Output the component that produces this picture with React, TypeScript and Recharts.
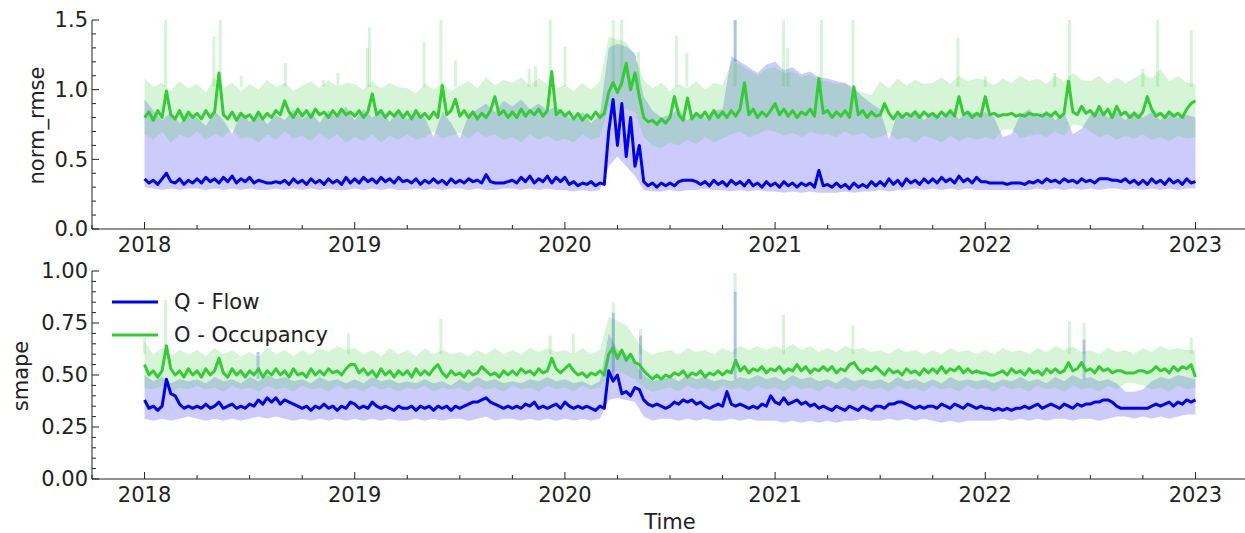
import React from 'react'
import { ComposedChart, Line, Area, Scatter, ErrorBar, XAxis, YAxis, Legend } from 'recharts'

const FONT = '"DejaVu Sans", Verdana, sans-serif'
const INK = '#222222'
const FLOW = '#0000f0'
const OCC = '#32cd32'

const START_YEAR = 2018
const LINE_STEPS = 48 // mean curves: samples per year
const BAND_STEPS = 24 // min/max envelopes: samples per year

const yearTicks = [2018, 2019, 2020, 2021, 2022, 2023]
const timeTicks = [
  2017.75, 2018, 2018.25, 2018.5, 2018.75, 2019, 2019.25, 2019.5, 2019.75, 2020, 2020.25, 2020.5,
  2020.75, 2021, 2021.25, 2021.5, 2021.75, 2022, 2022.25, 2022.5, 2022.75, 2023, 2023.25,
]
const rmseTicks = [0, 0.1, 0.2, 0.3, 0.4, 0.5, 0.6, 0.7, 0.8, 0.9, 1.0, 1.1, 1.2, 1.3, 1.4, 1.5]
const rmseMajor = [0, 0.5, 1.0, 1.5]
const smapeTicks = [
  0, 0.05, 0.1, 0.15, 0.2, 0.25, 0.3, 0.35, 0.4, 0.45, 0.5, 0.55, 0.6, 0.65, 0.7, 0.75, 0.8, 0.85,
  0.9, 0.95, 1.0,
]
const smapeMajor = [0, 0.25, 0.5, 0.75, 1.0]
const legendOrder = ['flow', 'occ']

// ---- norm_rmse, mean over detectors (x100), one row per quarter ----
const rmseFlow = [
  36, 33, 35, 32, 36, 40, 34, 33, 36, 32, 35, 33,
  36, 33, 37, 34, 36, 33, 37, 34, 38, 33, 36, 34,
  37, 33, 35, 34, 33, 33, 34, 33, 35, 32, 36, 33,
  35, 32, 36, 33, 35, 32, 36, 33, 35, 32, 37, 33,
  36, 33, 37, 34, 36, 33, 37, 34, 36, 33, 37, 34,
  35, 33, 36, 32, 35, 33, 36, 33, 35, 32, 36, 33,
  35, 33, 36, 34, 35, 33, 39, 34, 33, 33, 33, 34,
  35, 33, 37, 34, 38, 33, 36, 34, 38, 33, 37, 34,
  37, 32, 34, 31, 33, 32, 34, 31, 33, 32, 70, 93,
  60, 90, 52, 80, 45, 60, 34, 31, 33, 30, 33, 31,
  33, 31, 34, 35, 35, 35, 34, 32, 34, 31, 35, 32,
  34, 31, 35, 32, 34, 31, 35, 31, 33, 30, 34, 31,
  33, 30, 34, 31, 33, 30, 33, 31, 33, 30, 42, 31,
  32, 30, 33, 30, 32, 29, 33, 30, 32, 30, 34, 31,
  34, 31, 36, 32, 35, 31, 36, 33, 35, 32, 36, 33,
  36, 33, 37, 34, 36, 33, 38, 34, 36, 33, 37, 34,
  34, 33, 33, 33, 33, 32, 33, 33, 33, 32, 34, 33,
  35, 33, 36, 34, 35, 33, 36, 34, 35, 33, 36, 34,
  35, 33, 36, 36, 36, 35, 35, 34, 36, 33, 35, 32,
  35, 32, 36, 33, 35, 32, 36, 33, 35, 32, 36, 33,
  34,
]
const rmseOcc = [
  80, 84, 78, 85, 80, 99, 82, 79, 85, 78, 84, 80,
  83, 79, 85, 80, 84, 112, 82, 79, 84, 78, 83, 80,
  82, 78, 84, 79, 83, 80, 85, 82, 92, 84, 80, 86,
  81, 85, 80, 86, 82, 84, 80, 85, 81, 86, 82, 84,
  81, 85, 80, 84, 97, 82, 85, 80, 84, 81, 85, 80,
  84, 79, 85, 80, 83, 79, 84, 80, 103, 82, 85, 93,
  81, 85, 80, 84, 79, 83, 80, 85, 95, 82, 85, 80,
  84, 80, 86, 81, 85, 82, 86, 81, 85, 113, 82, 85,
  81, 84, 79, 83, 78, 82, 79, 84, 80, 83, 98, 105,
  98, 105, 119, 100, 112, 95, 80, 77, 78, 75, 79, 76,
  80, 95, 82, 78, 94, 79, 83, 80, 84, 79, 85, 80,
  84, 80, 85, 81, 86, 105, 82, 86, 80, 84, 81, 85,
  90, 82, 86, 81, 85, 80, 84, 82, 86, 81, 108, 83,
  85, 80, 84, 81, 85, 80, 102, 82, 85, 80, 84, 81,
  82, 90, 83, 79, 84, 80, 83, 81, 84, 80, 84, 81,
  83, 80, 84, 81, 85, 81, 95, 82, 84, 80, 83, 81,
  95, 82, 83, 81, 82, 82, 83, 81, 82, 81, 83, 82,
  82, 81, 83, 81, 84, 80, 83, 106, 84, 82, 88, 83,
  85, 81, 88, 82, 86, 80, 88, 82, 84, 80, 83, 80,
  84, 95, 86, 81, 83, 80, 84, 81, 83, 80, 86, 90,
  92,
]

// ---- norm_rmse, daily spread (x100), one row per year ----
const rmseFlowLow = [
  30, 29, 28, 29, 28, 29, 29, 28, 29, 28, 29, 28, 29, 28, 28, 29, 28, 29, 28, 29, 28, 29, 28, 28,
  29, 28, 29, 28, 29, 28, 28, 29, 28, 29, 28, 29, 29, 28, 29, 28, 28, 29, 29, 28, 29, 28, 29, 28,
  28, 27, 28, 27, 28, 45, 52, 45, 38, 28, 27, 27, 28, 27, 28, 28, 29, 28, 28, 27, 28, 27, 28, 27,
  27, 26, 27, 26, 27, 26, 26, 26, 27, 26, 27, 27, 28, 27, 28, 28, 29, 28, 29, 28, 29, 28, 29, 28,
  28, 28, 28, 28, 28, 28, 29, 28, 29, 28, 29, 28, 29, 28, 29, 29, 28, 29, 28, 29, 28, 29, 28, 29,
  29,
]
const rmseFlowHigh = [
  93, 85, 78, 84, 76, 82, 80, 74, 85, 78, 68, 83, 77, 84, 75, 82, 78, 86, 79, 84, 76, 85, 80, 88,
  78, 86, 80, 84, 77, 85, 79, 83, 80, 66, 84, 76, 65, 82, 86, 90, 84, 92, 88, 93, 86, 90, 85, 88,
  82, 78, 84, 76, 82, 130, 133, 131, 126, 95, 85, 80, 82, 86, 78, 84, 80, 85, 86, 124, 120, 116, 112, 118,
  120, 114, 116, 111, 113, 109, 108, 106, 105, 101, 95, 90, 86, 64, 84, 80, 86, 78, 84, 80, 86, 79, 85, 82,
  84, 80, 66, 68, 82, 86, 80, 85, 78, 84, 68, 72, 82, 86, 80, 84, 78, 85, 80, 84, 78, 85, 80, 82,
  80,
]
const rmseOccLow = [
  68, 64, 70, 62, 68, 65, 70, 64, 68, 66, 72, 65, 66, 62, 68, 64, 70, 65, 67, 63, 69, 64, 68, 62,
  66, 63, 68, 62, 67, 64, 68, 64, 66, 70, 65, 67, 69, 65, 70, 66, 68, 64, 66, 62, 68, 64, 67, 63,
  65, 62, 68, 64, 66, 88, 85, 86, 84, 66, 60, 58, 62, 60, 64, 61, 66, 62, 65, 68, 70, 66, 68, 71,
  70, 67, 69, 66, 70, 68, 68, 66, 70, 67, 69, 65, 66, 69, 64, 66, 62, 67, 65, 62, 67, 63, 66, 64,
  66, 64, 71, 72, 65, 67, 68, 66, 70, 67, 75, 74, 70, 66, 68, 64, 67, 65, 68, 64, 66, 63, 67, 65,
  66,
]
const rmseOccHigh = [
  108, 102, 105, 99, 106, 101, 104, 98, 109, 101, 105, 99, 104, 100, 107, 102, 105, 99, 103, 106, 101, 107, 102, 105,
  104, 100, 106, 101, 105, 102, 101, 97, 104, 100, 105, 99, 103, 106, 101, 109, 103, 107, 105, 109, 103, 108, 104, 101,
  103, 99, 105, 100, 106, 138, 136, 134, 125, 107, 101, 105, 99, 104, 101, 106, 100, 105, 103, 120, 118, 114, 110, 115,
  116, 112, 113, 109, 111, 107, 106, 104, 104, 100, 98, 96, 106, 101, 108, 103, 107, 104, 105, 109, 104, 110, 106, 108,
  107, 103, 108, 105, 110, 106, 108, 104, 110, 106, 112, 107, 106, 110, 104, 109, 105, 108, 112, 108, 115, 106, 110, 105,
  104,
]
// single-day outliers of the spread: [year, top x100]
const rmseOccSpikes = [
  [2018.1, 150], [2018.33, 138], [2018.36, 150], [2018.46, 110], [2018.67, 119], [2018.85, 107],
  [2018.92, 112], [2019.06, 130], [2019.07, 145], [2019.33, 134], [2019.41, 150], [2019.48, 121],
  [2019.83, 115], [2019.86, 117], [2019.93, 150], [2020.0, 131], [2020.23, 150], [2020.27, 150],
  [2020.35, 127], [2020.53, 139], [2020.58, 126], [2020.81, 150], [2021.04, 150], [2021.06, 130],
  [2021.22, 150], [2021.37, 150], [2021.87, 137], [2022.0, 110], [2022.33, 112], [2022.4, 150],
  [2022.75, 115], [2022.82, 150], [2022.98, 143],
]
const rmseFlowSpikes = [[2020.81, 150]]

// ---- smape, mean over detectors (x100) ----
const smapeFlow = [
  38, 34, 35, 33, 35, 48, 41, 40, 36, 34, 35, 34,
  35, 34, 36, 34, 35, 37, 34, 35, 36, 34, 35, 34,
  36, 35, 38, 36, 39, 37, 39, 36, 38, 37, 36, 35,
  34, 35, 33, 35, 34, 36, 34, 35, 33, 35, 34, 37,
  36, 34, 35, 34, 37, 35, 34, 35, 34, 33, 35, 34,
  34, 35, 33, 35, 34, 35, 33, 35, 34, 35, 33, 35,
  34, 35, 36, 37, 37, 38, 39, 37, 36, 35, 34, 35,
  34, 35, 34, 36, 35, 37, 34, 35, 34, 35, 36, 34,
  37, 35, 34, 35, 34, 35, 34, 33, 35, 34, 52, 47,
  50, 41, 42, 40, 44, 43, 38, 36, 35, 36, 35, 34,
  35, 37, 36, 38, 37, 38, 36, 37, 35, 34, 35, 36,
  35, 42, 36, 35, 36, 35, 34, 35, 34, 36, 35, 40,
  37, 36, 39, 36, 37, 38, 36, 37, 35, 36, 34, 35,
  34, 33, 35, 34, 33, 35, 34, 33, 35, 34, 33, 35,
  35, 34, 36, 36, 37, 37, 36, 35, 34, 35, 34, 35,
  35, 34, 36, 35, 34, 36, 35, 34, 36, 35, 34, 35,
  34, 34, 33, 34, 33, 34, 33, 34, 34, 35, 34, 35,
  36, 34, 35, 36, 35, 34, 36, 35, 34, 36, 35, 36,
  36, 37, 37, 38, 38, 37, 35, 34, 34, 34, 34, 34,
  34, 34, 35, 36, 35, 36, 37, 35, 37, 36, 38, 37,
  38,
]
const smapeOcc = [
  55, 50, 52, 49, 52, 64, 53, 50, 52, 49, 53, 50,
  52, 49, 53, 50, 52, 58, 51, 49, 53, 50, 52, 49,
  52, 50, 53, 49, 52, 50, 53, 50, 52, 49, 53, 50,
  51, 49, 53, 50, 52, 50, 53, 51, 52, 50, 53, 55,
  55, 51, 53, 50, 52, 49, 53, 50, 52, 49, 52, 50,
  52, 49, 53, 50, 52, 50, 53, 55, 51, 49, 52, 50,
  51, 49, 52, 50, 51, 54, 52, 50, 51, 49, 52, 50,
  52, 50, 53, 51, 52, 50, 53, 51, 52, 58, 53, 51,
  53, 55, 52, 50, 51, 49, 51, 50, 52, 50, 60, 63,
  58, 62, 57, 60, 56, 55, 52, 50, 48, 50, 48, 50,
  49, 51, 50, 52, 49, 51, 50, 52, 49, 51, 50, 52,
  50, 52, 51, 57, 52, 54, 51, 53, 52, 54, 51, 53,
  52, 54, 51, 53, 52, 55, 52, 54, 51, 53, 52, 54,
  52, 54, 51, 53, 52, 55, 56, 53, 51, 53, 52, 54,
  52, 50, 53, 51, 52, 50, 53, 51, 52, 50, 53, 51,
  53, 51, 54, 51, 53, 52, 54, 51, 53, 51, 52, 51,
  51, 50, 50, 51, 52, 50, 53, 51, 52, 50, 53, 51,
  52, 50, 53, 51, 53, 51, 52, 56, 52, 53, 56, 52,
  53, 51, 54, 52, 53, 51, 52, 52, 51, 51, 51, 52,
  52, 51, 52, 54, 52, 53, 51, 54, 52, 54, 53, 55,
  49,
]

// ---- smape, daily spread (x100) ----
const smapeFlowLow = [
  29, 28, 29, 28, 29, 30, 29, 28, 29, 28, 29, 28, 29, 30, 29, 30, 29, 28, 29, 28, 29, 28, 29, 28,
  29, 28, 29, 28, 29, 28, 28, 29, 28, 29, 28, 29, 29, 28, 29, 30, 28, 29, 29, 28, 29, 28, 29, 28,
  29, 28, 29, 28, 29, 38, 39, 38, 37, 30, 28, 29, 29, 28, 29, 28, 29, 28, 28, 29, 28, 29, 28, 28,
  28, 27, 28, 27, 28, 27, 28, 27, 28, 28, 29, 28, 28, 29, 28, 29, 28, 29, 28, 27, 28, 27, 28, 28,
  28, 28, 29, 28, 29, 28, 29, 28, 29, 29, 28, 29, 29, 28, 29, 30, 30, 29, 30, 29, 30, 29, 30, 31,
  31,
]
const smapeFlowHigh = [
  50, 47, 49, 46, 48, 47, 48, 46, 49, 47, 48, 46, 49, 47, 50, 48, 49, 47, 48, 46, 49, 47, 48, 46,
  48, 46, 49, 47, 48, 46, 47, 46, 48, 46, 47, 45, 48, 46, 49, 47, 48, 46, 47, 46, 48, 47, 49, 47,
  48, 46, 47, 45, 47, 70, 62, 60, 56, 50, 47, 48, 49, 47, 50, 48, 49, 47, 48, 47, 49, 48, 50, 48,
  49, 47, 50, 48, 49, 47, 48, 46, 49, 47, 48, 47, 48, 46, 49, 47, 48, 46, 48, 46, 49, 47, 48, 47,
  48, 46, 48, 47, 49, 47, 48, 46, 49, 47, 50, 48, 49, 47, 48, 46, 42, 42, 43, 47, 49, 48, 50, 49,
  48,
]
const smapeOccLow = [
  44, 43, 45, 42, 44, 43, 45, 43, 44, 42, 45, 43, 44, 42, 45, 43, 44, 42, 45, 43, 44, 42, 45, 43,
  44, 42, 45, 43, 44, 42, 44, 43, 45, 42, 44, 43, 44, 42, 45, 43, 44, 42, 45, 43, 44, 42, 45, 43,
  44, 42, 45, 43, 44, 50, 52, 50, 48, 44, 42, 43, 44, 42, 45, 43, 44, 42, 45, 43, 44, 42, 45, 43,
  44, 42, 45, 43, 44, 42, 45, 43, 44, 42, 45, 43, 44, 42, 45, 43, 44, 42, 45, 43, 44, 42, 45, 43,
  44, 42, 45, 43, 44, 42, 45, 43, 44, 42, 45, 43, 44, 42, 45, 43, 46, 46, 45, 43, 44, 42, 45, 43,
  44,
]
const smapeOccHigh = [
  66, 60, 63, 59, 62, 60, 62, 59, 63, 60, 62, 59, 61, 59, 63, 60, 62, 59, 62, 60, 63, 61, 64, 62,
  63, 60, 62, 59, 63, 60, 62, 59, 63, 60, 62, 60, 61, 59, 62, 60, 63, 60, 62, 60, 63, 61, 63, 61,
  62, 60, 63, 60, 62, 78, 76, 74, 68, 62, 60, 61, 62, 60, 63, 61, 62, 60, 63, 61, 64, 62, 64, 62,
  64, 62, 65, 62, 64, 61, 63, 61, 64, 62, 63, 61, 62, 60, 63, 61, 62, 60, 62, 60, 63, 61, 62, 60,
  62, 60, 63, 61, 62, 60, 63, 61, 64, 62, 64, 61, 62, 60, 63, 61, 62, 60, 63, 61, 64, 62, 63, 62,
  62,
]
const smapeOccSpikes = [
  [2018.0, 68], [2018.1, 86], [2018.54, 61], [2018.97, 70], [2019.41, 77], [2019.93, 69],
  [2020.04, 70], [2020.23, 85], [2020.36, 72], [2020.81, 99], [2021.04, 79], [2021.37, 74],
  [2022.4, 76], [2022.47, 75], [2022.98, 68],
]
const smapeFlowSpikes = [[2018.54, 61], [2020.23, 80], [2020.36, 69], [2020.81, 90], [2022.47, 67]]

const toLineRows = (flow: number[], occ: number[]) =>
  flow.map((v, i) => ({ t: START_YEAR + i / LINE_STEPS, flow: v / 100, occ: occ[i] / 100 }))

const toBandRows = (fl: number[], fh: number[], ol: number[], oh: number[]) =>
  fl.map((v, i) => ({
    t: START_YEAR + i / BAND_STEPS,
    flowBand: [v / 100, fh[i] / 100],
    occBand: [ol[i] / 100, oh[i] / 100],
  }))

// each outlier is drawn as an error bar hanging from its top down to the envelope
const toSpikeRows = (spikes: number[][], base: number) =>
  spikes.map(([t, top]) => ({ t, top: top / 100, reach: [top / 100 - base, 0] }))

const noDot = () => <g />

function BottomTick(props: any) {
  const { x, y, payload } = props
  const major = yearTicks.includes(payload.value)
  const axisY = y - 8
  return (
    <g>
      <line x1={x} x2={x} y1={axisY} y2={axisY - (major ? 7 : 4)} stroke={INK} />
      {major && (
        <text x={x} y={y} dy="0.71em" textAnchor="middle" fill={INK} fontSize={21} fontFamily={FONT}>
          {payload.value}
        </text>
      )}
    </g>
  )
}

function TopTick(props: any) {
  const { x, y, payload } = props
  const major = yearTicks.includes(payload.value)
  return <line x1={x} x2={x} y1={y} y2={y + (major ? 7 : 4)} stroke={INK} />
}

function LeftTick(props: any) {
  const { x, y, payload, majors, digits } = props
  const major = majors.includes(payload.value)
  const axisX = x + 4
  return (
    <g>
      <line x1={axisX} x2={axisX + (major ? 7 : 4)} y1={y} y2={y} stroke={INK} />
      {major && (
        <text x={x} y={y} dy="0.355em" textAnchor="end" fill={INK} fontSize={21} fontFamily={FONT}>
          {payload.value.toFixed(digits)}
        </text>
      )}
    </g>
  )
}

function RightTick(props: any) {
  const { x, y, payload, majors } = props
  const major = majors.includes(payload.value)
  return <line x1={x} x2={x - (major ? 7 : 4)} y1={y} y2={y} stroke={INK} />
}

function LegendBox(props: any) {
  const items = (props.payload ?? [])
    .filter((e: any) => e.type !== 'none')
    .sort((a: any, b: any) => legendOrder.indexOf(a.dataKey) - legendOrder.indexOf(b.dataKey))
  return (
    <div style={{ fontFamily: FONT, fontSize: 21, color: INK }}>
      {items.map((e: any) => (
        <div key={e.value} style={{ display: 'flex', alignItems: 'center', height: 33 }}>
          <svg width={46} height={6}>
            <line x1={0} x2={46} y1={3} y2={3} stroke={e.color} strokeWidth={3} />
          </svg>
          <span style={{ marginLeft: 16, whiteSpace: 'nowrap' }}>{e.value}</span>
        </div>
      ))}
    </div>
  )
}

interface PanelProps {
  top: number
  height: number
  marginTop: number
  xAxisHeight: number
  lines: any[]
  bands: any[]
  occSpikes: any[]
  flowSpikes: any[]
  yMax: number
  yTicks: number[]
  yMajor: number[]
  digits: number
  title: string
  titleX: number
  xTitle?: string
  legend?: boolean
}

function Panel(p: PanelProps) {
  const xDomain = [2017.75, 2023.25]
  return (
    <div style={{ position: 'absolute', left: 0, top: p.top }}>
      <ComposedChart
        width={1250}
        height={p.height}
        data={p.lines}
        margin={{ top: p.marginTop, right: 2, bottom: 0, left: 0 }}
      >
        <XAxis
          dataKey="t"
          type="number"
          domain={xDomain}
          allowDataOverflow
          ticks={timeTicks}
          interval={0}
          height={p.xAxisHeight}
          tickSize={0}
          tickMargin={8}
          tickLine={false}
          axisLine={{ stroke: INK }}
          tick={(t: any) => <BottomTick {...t} />}
          label={
            p.xTitle
              ? (l: any) => (
                  <text
                    x={l.viewBox.x + l.viewBox.width / 2}
                    y={l.viewBox.y + 43}
                    dy="0.35em"
                    textAnchor="middle"
                    fill={INK}
                    fontSize={21}
                    fontFamily={FONT}
                  >
                    {p.xTitle}
                  </text>
                )
              : undefined
          }
        />
        <XAxis
          xAxisId="top"
          orientation="top"
          dataKey="t"
          type="number"
          domain={xDomain}
          allowDataOverflow
          ticks={timeTicks}
          interval={0}
          height={0}
          tickSize={0}
          tickMargin={0}
          tickLine={false}
          axisLine={{ stroke: INK }}
          tick={(t: any) => <TopTick {...t} />}
        />
        <YAxis
          type="number"
          domain={[0, p.yMax]}
          allowDataOverflow
          ticks={p.yTicks}
          interval={0}
          width={92}
          tickSize={0}
          tickMargin={4}
          tickLine={false}
          axisLine={{ stroke: INK }}
          tick={(t: any) => <LeftTick {...t} majors={p.yMajor} digits={p.digits} />}
          label={(l: any) => {
            const cx = l.viewBox.x + p.titleX
            const cy = l.viewBox.y + l.viewBox.height / 2 + 1
            return (
              <text
                x={cx}
                y={cy}
                dy="0.35em"
                textAnchor="middle"
                transform={`rotate(-90 ${cx} ${cy})`}
                fill={INK}
                fontSize={21}
                fontFamily={FONT}
              >
                {p.title}
              </text>
            )
          }}
        />
        <YAxis
          yAxisId="right"
          orientation="right"
          type="number"
          domain={[0, p.yMax]}
          allowDataOverflow
          ticks={p.yTicks}
          interval={0}
          width={0}
          tickSize={0}
          tickMargin={0}
          tickLine={false}
          axisLine={{ stroke: INK }}
          tick={(t: any) => <RightTick {...t} majors={p.yMajor} />}
        />

        <Area
          data={p.bands}
          dataKey="flowBand"
          type="linear"
          stroke="none"
          fill={FLOW}
          fillOpacity={0.2}
          legendType="none"
          isAnimationActive={false}
        />
        <Area
          data={p.bands}
          dataKey="occBand"
          type="linear"
          stroke="none"
          fill={OCC}
          fillOpacity={0.2}
          legendType="none"
          isAnimationActive={false}
        />
        <Scatter data={p.occSpikes} dataKey="top" shape={noDot} legendType="none" isAnimationActive={false}>
          <ErrorBar
            dataKey="reach"
            direction="y"
            width={0}
            stroke="rgba(50,205,50,0.2)"
            strokeWidth={3}
            isAnimationActive={false}
          />
        </Scatter>
        <Scatter data={p.flowSpikes} dataKey="top" shape={noDot} legendType="none" isAnimationActive={false}>
          <ErrorBar
            dataKey="reach"
            direction="y"
            width={0}
            stroke="rgba(0,0,255,0.2)"
            strokeWidth={3}
            isAnimationActive={false}
          />
        </Scatter>
        <Line
          dataKey="flow"
          name="Q - Flow"
          type="linear"
          stroke={FLOW}
          strokeWidth={3}
          strokeLinejoin="round"
          dot={false}
          isAnimationActive={false}
        />
        <Line
          dataKey="occ"
          name="O - Occupancy"
          type="linear"
          stroke={OCC}
          strokeWidth={3}
          strokeLinejoin="round"
          dot={false}
          isAnimationActive={false}
        />
        {p.legend && (
          <Legend
            layout="vertical"
            align="center"
            verticalAlign="middle"
            wrapperStyle={{ left: 112, top: 35, width: 'auto' }}
            content={(lp: any) => <LegendBox {...lp} />}
          />
        )}
      </ComposedChart>
    </div>
  )
}

export default function App() {
  return (
    <div
      style={{
        position: 'fixed',
        left: 0,
        top: 0,
        width: 1245,
        height: 533,
        overflow: 'hidden',
        background: '#ffffff',
      }}
    >
      <Panel
        top={0}
        height={260}
        marginTop={20}
        xAxisHeight={31}
        lines={toLineRows(rmseFlow, rmseOcc)}
        bands={toBandRows(rmseFlowLow, rmseFlowHigh, rmseOccLow, rmseOccHigh)}
        occSpikes={toSpikeRows(rmseOccSpikes, 1.02)}
        flowSpikes={toSpikeRows(rmseFlowSpikes, 1.2)}
        yMax={1.5}
        yTicks={rmseTicks}
        yMajor={rmseMajor}
        digits={1}
        title="norm_rmse"
        titleX={37}
      />
      <Panel
        top={250}
        height={283}
        marginTop={21}
        xAxisHeight={54}
        lines={toLineRows(smapeFlow, smapeOcc)}
        bands={toBandRows(smapeFlowLow, smapeFlowHigh, smapeOccLow, smapeOccHigh)}
        occSpikes={toSpikeRows(smapeOccSpikes, 0.6)}
        flowSpikes={toSpikeRows(smapeFlowSpikes, 0.48)}
        yMax={1}
        yTicks={smapeTicks}
        yMajor={smapeMajor}
        digits={2}
        title="smape"
        titleX={21}
        xTitle="Time"
        legend
      />
    </div>
  )
}
